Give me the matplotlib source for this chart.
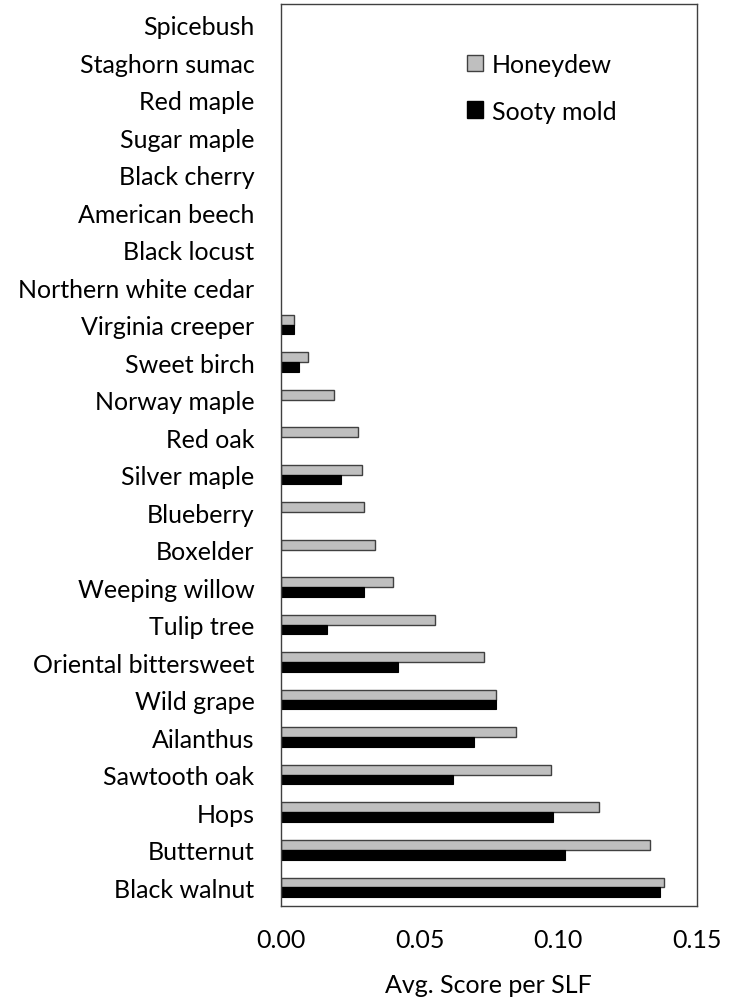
import matplotlib.pyplot as plt
import numpy as np

species = ["Spicebush", "Staghorn sumac", "Red maple", "Sugar maple", "Black cherry",
           "American beech", "Black locust", "Northern white cedar", "Virginia creeper",
           "Sweet birch", "Norway maple", "Red oak", "Silver maple", "Blueberry",
           "Boxelder", "Weeping willow", "Tulip tree", "Oriental bittersweet",
           "Wild grape", "Ailanthus", "Sawtooth oak", "Hops", "Butternut", "Black walnut"]
honeydew = [0, 0, 0, 0, 0, 0, 0, 0, 0.0046, 0.0099, 0.019, 0.0279, 0.0293, 0.0300,
            0.0339, 0.0403, 0.0557, 0.0732, 0.0776, 0.0849, 0.0975, 0.1147, 0.1332, 0.1382]
sooty_mold = [0, 0, 0, 0, 0, 0, 0, 0, 0.0047, 0.0065, 0, 0, 0.0218, 0, 0, 0.0300,
              0.0167, 0.0421, 0.0776, 0.0695, 0.0619, 0.0982, 0.1024, 0.1367]

plt.rcParams['font.family'] = ['Lato', 'DejaVu Sans']
fs = 18

fig = plt.figure(figsize=(7.39, 10.03), dpi=100)
ax = fig.add_axes([0.380, 0.0957, 0.563, 0.8993])

y = np.arange(len(species))
h = 0.26
# no outline for empty bars, so nothing shows at the axis
lw_h = [1 if v > 0 else 0 for v in honeydew]
lw_s = [0.8 if v > 0 else 0 for v in sooty_mold]
ax.barh(y - h / 2, honeydew, height=h, color='#bfbfbf', edgecolor='#404040',
        linewidth=lw_h, label='Honeydew')
ax.barh(y + h / 2, sooty_mold, height=h, color='black', edgecolor='black',
        linewidth=lw_s, label='Sooty mold')

ax.set_ylim(len(species) - 0.5, -0.55)
ax.set_xlim(0, 0.15)
ax.set_yticks(y)
ax.set_yticklabels(species, fontsize=fs)
ax.set_xticks([0, 0.05, 0.10, 0.15])
ax.set_xticklabels(["0.00", "0.05", "0.10", "0.15"], fontsize=fs)
ax.tick_params(length=0)
ax.tick_params(axis='y', pad=19)
ax.tick_params(axis='x', pad=16)
ax.set_xlabel("Avg. Score per SLF", fontsize=fs, labelpad=16)
for s in ax.spines.values():
    s.set_color('#404040')
    s.set_linewidth(1)

leg = ax.legend(loc='upper left', bbox_to_anchor=(0.423, 0.957), frameon=False, fontsize=fs,
                handlelength=0.65, handleheight=0.65, handletextpad=0.35, labelspacing=0.95,
                borderaxespad=0)
for p in leg.get_patches():
    p.set_linewidth(1)

fig.savefig("out.png")
